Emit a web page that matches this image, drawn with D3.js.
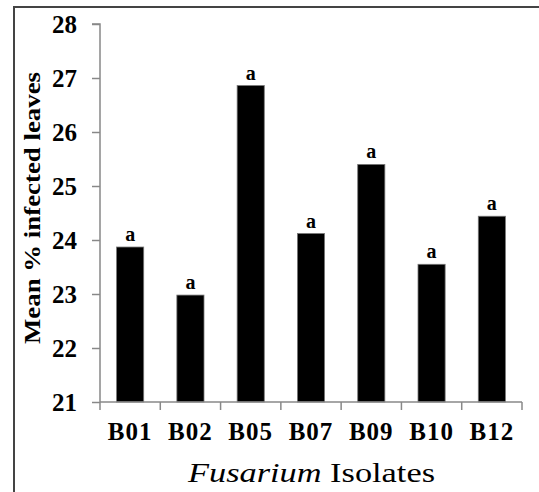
<!DOCTYPE html>
<html>
<head>
<meta charset="utf-8">
<script src="https://cdnjs.cloudflare.com/ajax/libs/d3/7.8.5/d3.min.js"></script>
<style>
body { margin: 0; background: #fff; }
svg text, svg tspan { font-family: "Liberation Serif", "DejaVu Serif", serif; }
</style>
</head>
<body>
<div id="chart"></div>
<script>
/* mean % infected leaves per isolate */
var isolates = ["B01", "B02", "B05", "B07", "B09", "B10", "B12"];
var meanInfected = [23.87, 22.98, 26.86, 24.12, 25.40, 23.55, 24.44];
var groupLetters = ["a", "a", "a", "a", "a", "a", "a"];
var yTicks = [21, 22, 23, 24, 25, 26, 27, 28];

var serif = "'Liberation Serif', 'DejaVu Serif', serif";

var margin = {top: 24, right: 17, bottom: 90, left: 100},
	width = 539 - margin.left - margin.right,
	height = 492 - margin.top - margin.bottom;

var svg = d3.select("#chart")
	.append("svg")
	.attr("width", 539)
	.attr("height", 492);

/* frame round the figure */
svg.append("rect")
	.attr("x", 14).attr("y", 7)
	.attr("width", 540).attr("height", 500)
	.style("fill", "none")
	.style("stroke", "#444")
	.style("stroke-width", 2);

var g = svg.append("g")
	.attr("transform", "translate(" + margin.left + "," + margin.top + ")");

var x = d3.scaleBand().domain(isolates).range([0, width]).paddingInner(0.55).paddingOuter(0.275);
var xEdges = d3.scaleBand().domain(isolates).range([0, width]).padding(0);
var y = d3.scaleLinear().domain([21, 28]).range([height, 0]);

/* bars */
g.selectAll(".bar")
	.data(isolates)
	.enter()
	.append("rect")
	.attr("class", "bar")
	.attr("x", function(d) { return x(d); })
	.attr("y", function(d, i) { return y(meanInfected[i]); })
	.attr("width", x.bandwidth())
	.attr("height", function(d, i) { return height - y(meanInfected[i]); })
	.style("fill", "#000")
	.style("stroke", "#777")
	.style("stroke-width", 0.8);

/* letters */
g.selectAll(".letter")
	.data(isolates)
	.enter()
	.append("text")
	.attr("class", "letter")
	.attr("x", function(d) { return x(d) + x.bandwidth() / 2; })
	.attr("y", function(d, i) { return y(meanInfected[i]) - 6; })
	.attr("text-anchor", "middle")
	.style("font-size", "20px")
	.style("font-weight", "bold")
	.text(function(d, i) { return groupLetters[i]; });

/* y axis */
var yAxis = g.append("g")
	.call(d3.axisLeft(y).tickValues(yTicks).tickSize(8).tickPadding(15).tickFormat(d3.format("d")));
yAxis.attr("font-family", null);
yAxis.selectAll("path, line").style("stroke", "#888").style("stroke-width", 1.5);
yAxis.select(".domain").attr("d", "M-8," + y(28) + "H0V" + height);
yAxis.selectAll("text")
	.style("font-family", serif)
	.style("font-size", "25px")
	.style("font-weight", "bold")
	.style("fill", "#000");

/* x axis: ticks sit between categories */
var xAxis = g.append("g")
	.attr("transform", "translate(0," + height + ")");
xAxis.append("path")
	.attr("d", "M0,0H" + width)
	.style("stroke", "#888").style("stroke-width", 1.5).style("fill", "none");
var edges = isolates.map(function(d) { return xEdges(d); }).concat([width]);
xAxis.selectAll(".edge")
	.data(edges)
	.enter()
	.append("line")
	.attr("x1", function(d) { return d; })
	.attr("x2", function(d) { return d; })
	.attr("y1", 0).attr("y2", 8)
	.style("stroke", "#888").style("stroke-width", 1.5);
xAxis.selectAll(".xlab")
	.data(isolates)
	.enter()
	.append("text")
	.attr("x", function(d) { return xEdges(d) + xEdges.bandwidth() / 2; })
	.attr("y", 38)
	.attr("text-anchor", "middle")
	.style("font-size", "25px")
	.style("font-weight", "bold")
	.style("letter-spacing", "1px")
	.text(function(d) { return d; });

/* axis titles */
var xTitle = svg.append("text")
	.attr("x", 188)
	.attr("y", 482)
	.attr("textLength", 247)
	.attr("lengthAdjust", "spacingAndGlyphs")
	.style("font-family", serif)
	.style("font-size", "28px");
xTitle.append("tspan").style("font-family", serif).style("font-style", "italic").text("Fusarium");
xTitle.append("tspan").style("font-family", serif).text(" Isolates");

svg.append("text")
	.attr("transform", "translate(40,344) rotate(-90)")
	.attr("textLength", 272)
	.attr("lengthAdjust", "spacingAndGlyphs")
	.style("font-size", "23px")
	.style("font-weight", "bold")
	.text("Mean % infected leaves");
</script>
</body>
</html>
